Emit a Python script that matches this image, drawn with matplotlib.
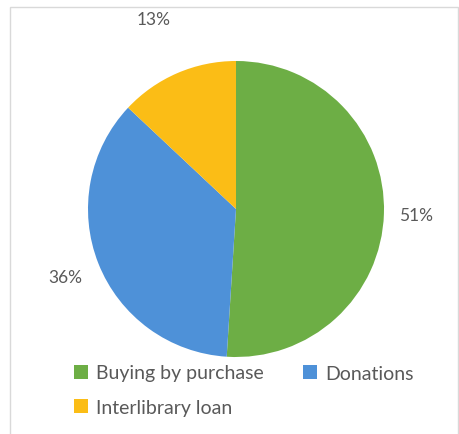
import matplotlib
matplotlib.use("Agg")
import matplotlib.pyplot as plt
from matplotlib.patches import Rectangle, Patch
import numpy as np

plt.rcParams['font.family'] = ['Lato', 'DejaVu Sans']

categories = ["Buying by purchase", "Donations", "Interlibrary loan"]
shares = [51, 36, 13]
pct_labels = ["51%", "36%", "13%"]
colors = ["#6DAE45", "#4E91D8", "#FBBD16"]
label_radius = [1.22, 1.24, 1.40]

W, H = 459, 435
fig = plt.figure(figsize=(W / 100, H / 100), dpi=100)
fig.patch.set_facecolor("white")

# light chart-area border
fig.add_artist(Rectangle((10 / W, -0.01), 448 / W, (H - 8) / H + 0.01,
                         transform=fig.transFigure, fill=False,
                         edgecolor="#D9D9D9", linewidth=1.0))

cx, cy, r = 236, 210, 148
ax = fig.add_axes([(cx - r) / W, (H - cy - r) / H, 2 * r / W, 2 * r / H])
wedges, _ = ax.pie(shares, colors=colors, startangle=90, counterclock=False,
                   radius=1.0, wedgeprops=dict(linewidth=0))
ax.set_xlim(-1, 1)
ax.set_ylim(-1, 1)
ax.set_aspect("equal")
ax.axis("off")

for w, txt, d in zip(wedges, pct_labels, label_radius):
    mid = np.deg2rad((w.theta1 + w.theta2) / 2)
    ax.text(d * np.cos(mid), d * np.sin(mid), txt, ha="center", va="center",
            fontsize=12.5, color="#595959", clip_on=False)

# legend laid out row by row: two entries on the first line, one below
handles = [Patch(facecolor=c, edgecolor="none") for c in colors]
order = [0, 2, 1]
fig.legend([handles[i] for i in order], [categories[i] for i in order],
           loc="upper left", bbox_to_anchor=(56 / W, 1 - 348 / H), ncol=2,
           frameon=False, fontsize=14, labelcolor="#595959",
           handlelength=0.75, handleheight=0.75, handletextpad=0.4,
           columnspacing=2.0, labelspacing=0.9)

fig.savefig("out.png", dpi=100)
